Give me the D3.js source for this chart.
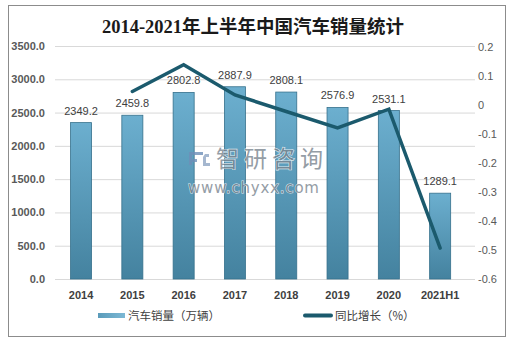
<!DOCTYPE html>
<html>
<head>
<meta charset="utf-8">
<script src="https://cdn.jsdelivr.net/npm/d3@7"></script>
<style>
  body { margin: 0; background: #fff; }
  text { font-family: "Liberation Sans", Arial, "Noto Sans CJK SC", sans-serif; }
</style>
</head>
<body>
<div id="chart"></div>
<script>
// H1 car sales (10k units) and year-on-year growth
var years = ["2014", "2015", "2016", "2017", "2018", "2019", "2020", "2021H1"];
var sales = [2349.2, 2459.8, 2802.8, 2887.9, 2808.1, 2576.9, 2531.1, 1289.1];
var growth = [null, 0.045, 0.137, 0.033, -0.024, -0.081, -0.016, -0.495];
var salesTicks = [0, 500, 1000, 1500, 2000, 2500, 3000, 3500];
var growthTicks = [0.2, 0.1, 0, -0.1, -0.2, -0.3, -0.4, -0.5, -0.6];

var svgWidth = 514;
var svgHeight = 345;

var plot = { left: 55, right: 475, top: 46, bottom: 279 };

var svg = d3.select("#chart")
  .append("svg")
  .attr("width", svgWidth)
  .attr("height", svgHeight);

var defs = svg.append("defs");
var grad = defs.append("linearGradient")
  .attr("id", "barGrad")
  .attr("x1", 0).attr("y1", 0).attr("x2", 0).attr("y2", 1);
grad.append("stop").attr("offset", "0%").attr("stop-color", "#6cafcf");
grad.append("stop").attr("offset", "100%").attr("stop-color", "#44829f");

var legGrad = defs.append("linearGradient")
  .attr("id", "legGrad")
  .attr("x1", 0).attr("y1", 0).attr("x2", 1).attr("y2", 0);
legGrad.append("stop").attr("offset", "0%").attr("stop-color", "#5a9bba");
legGrad.append("stop").attr("offset", "100%").attr("stop-color", "#7db8d4");

// outer frame
svg.append("rect")
  .attr("x", 8.5).attr("y", 5.5)
  .attr("width", 497).attr("height", 331)
  .attr("fill", "none")
  .attr("stroke", "#8c8c8c")
  .attr("stroke-width", 1);

// title
svg.append("text")
  .attr("x", 253)
  .attr("y", 33)
  .attr("text-anchor", "middle")
  .style("font-family", "'Liberation Serif', 'Noto Sans CJK SC', serif")
  .style("font-size", "18.5px")
  .style("font-weight", "bold")
  .attr("fill", "#1a1a1a")
  .text("2014-2021年上半年中国汽车销量统计");

// scales
var xScale = d3.scaleBand()
  .domain(years)
  .range([55.4, 465.8])
  .paddingInner(0.59)
  .paddingOuter(0.295);

var yLeft = d3.scaleLinear()
  .domain([0, 3500])
  .range([plot.bottom, plot.top]);

var yRight = d3.scaleLinear()
  .domain([-0.6, 0.2])
  .range([plot.bottom - 0.5, plot.top + 0.5]);

// left axis + gridlines
var leftAxis = d3.axisLeft(yLeft)
  .tickValues(salesTicks)
  .tickFormat(d3.format(".1f"))
  .tickSize(-(plot.right - plot.left))
  .tickPadding(10);

var gLeft = svg.append("g")
  .attr("transform", "translate(" + plot.left + ",0)")
  .call(leftAxis);
gLeft.select(".domain").remove();
gLeft.selectAll("line").attr("stroke", "#d9d9d9");
gLeft.selectAll("text")
  .attr("fill", "#595959")
  .style("font-size", "11px")
  .style("font-weight", "bold");

// right axis
var rightAxis = d3.axisRight(yRight)
  .tickValues(growthTicks)
  .tickFormat(function(d) { return d === 0 ? "0" : d.toFixed(1); })
  .tickSize(0)
  .tickPadding(3);

var gRight = svg.append("g")
  .attr("transform", "translate(" + plot.right + ",0)")
  .call(rightAxis);
gRight.select(".domain").remove();
gRight.selectAll("text")
  .attr("fill", "#595959")
  .style("font-size", "11px");

// category axis
var bottomAxis = d3.axisBottom(xScale)
  .tickSize(0)
  .tickPadding(12);

var gBottom = svg.append("g")
  .attr("transform", "translate(0," + plot.bottom + ")")
  .call(bottomAxis);
gBottom.select(".domain").remove();
gBottom.selectAll("text")
  .attr("fill", "#404040")
  .style("font-size", "11px")
  .style("font-weight", "bold");

// bars
svg.append("g")
  .selectAll("rect")
  .data(sales)
  .enter()
  .append("rect")
  .attr("x", function(d, i) { return xScale(years[i]); })
  .attr("y", function(d) { return yLeft(d); })
  .attr("width", xScale.bandwidth())
  .attr("height", function(d) { return plot.bottom - yLeft(d); })
  .attr("fill", "url(#barGrad)")
  .attr("stroke", "#36718c")
  .attr("stroke-width", 0.8);

// value labels
svg.append("g")
  .selectAll("text")
  .data(sales)
  .enter()
  .append("text")
  .attr("x", function(d, i) { return xScale(years[i]) + xScale.bandwidth() / 2; })
  .attr("y", function(d) { return yLeft(d) - 8; })
  .attr("text-anchor", "middle")
  .attr("fill", "#404040")
  .style("font-size", "11px")
  .text(function(d) { return d.toFixed(1); });

// watermark
var wm = svg.append("g").attr("opacity", 0.8);
wm.append("path")
  .attr("d", "M189,152 h14 v3 h-11 v4 h5 v3 h-5 v3 h-3 z")
  .attr("fill", "#6f8fb8");
wm.append("path")
  .attr("d", "M205,154 h4 v3 h-3 v6 h4 v3 h-7 v-9 z")
  .attr("fill", "#8fa6c4");
wm.append("text")
  .attr("x", 216)
  .attr("y", 167)
  .attr("fill", "#7a858f")
  .attr("stroke", "#ffffff")
  .attr("stroke-width", 1.2)
  .attr("paint-order", "stroke")
  .style("font-family", "'Noto Sans CJK SC', sans-serif")
  .style("font-size", "23px")
  .style("letter-spacing", "5px")
  .text("智研咨询");
wm.append("text")
  .attr("x", 188)
  .attr("y", 193)
  .attr("fill", "#7a858f")
  .attr("stroke", "#ffffff")
  .attr("stroke-width", 1)
  .attr("paint-order", "stroke")
  .style("font-family", "'DejaVu Sans', sans-serif")
  .style("font-size", "15px")
  .style("letter-spacing", "0.8px")
  .text("www.chyxx.com");

// growth line
var line = d3.line()
  .defined(function(d) { return d !== null; })
  .x(function(d, i) { return xScale(years[i]) + xScale.bandwidth() / 2; })
  .y(function(d) { return yRight(d); });

svg.append("path")
  .datum(growth)
  .attr("d", line)
  .attr("fill", "none")
  .attr("stroke", "#1b5a6d")
  .attr("stroke-width", 3.5)
  .attr("stroke-linecap", "round");

// legend
svg.append("rect")
  .attr("x", 98).attr("y", 313)
  .attr("width", 27).attr("height", 5)
  .attr("fill", "url(#legGrad)");
svg.append("text")
  .attr("x", 128).attr("y", 319.5)
  .attr("fill", "#404040")
  .style("font-family", "'Noto Sans CJK SC', sans-serif")
  .style("font-size", "11.5px")
  .text("汽车销量（万辆）");

svg.append("line")
  .attr("x1", 305).attr("x2", 331)
  .attr("y1", 315.5).attr("y2", 315.5)
  .attr("stroke", "#1b5a6d")
  .attr("stroke-width", 4)
  .attr("stroke-linecap", "round");
svg.append("text")
  .attr("x", 335).attr("y", 319.5)
  .attr("fill", "#404040")
  .style("font-family", "'Noto Sans CJK SC', sans-serif")
  .style("font-size", "11.5px")
  .text("同比增长（%）");
</script>
</body>
</html>
